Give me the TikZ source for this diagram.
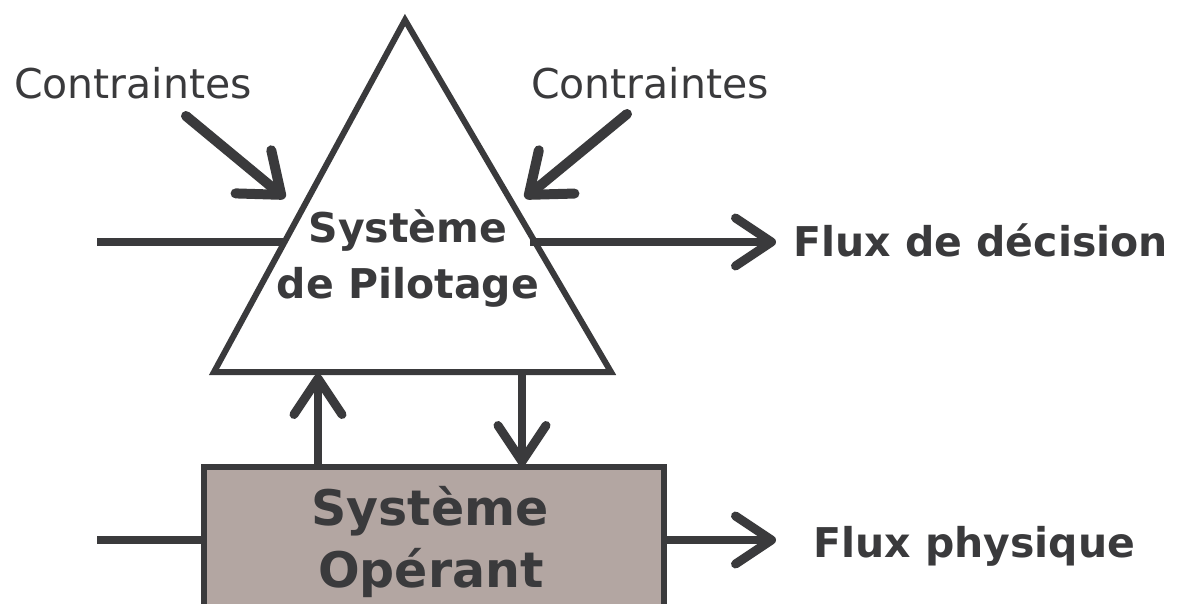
\documentclass[tikz,border=0pt]{standalone}
\usepackage{fontspec}
\setmainfont{DejaVu Sans}
\usetikzlibrary{arrows.meta}
\definecolor{dark}{HTML}{3A3A3C}
\definecolor{boxfill}{HTML}{B3A6A2}
\tikzset{
  conn/.style={draw=dark, line width=8pt, line cap=butt},
  arr/.style={conn, -{Straight Barb[length=36pt, width=48pt, line width=9pt, round]}},
  carr/.style={draw=dark, line width=10pt, line cap=round, -{Straight Barb[length=36pt, width=56pt, line width=10pt, round]}},
  lbl/.style={inner sep=0pt, text=dark, font=\fontsize{41}{50}\selectfont},
  blbl/.style={lbl, font=\bfseries\fontsize{41}{50}\selectfont},
  boxlbl/.style={inner sep=0pt, text=dark, font=\bfseries\fontsize{49}{58}\selectfont},
}
\begin{document}
\begin{tikzpicture}[x=1pt,y=-1pt]
\useasboundingbox (0,0) rectangle (1186,604);
\clip (0,0) rectangle (1186,604);
% triangle
\coordinate (apex) at (405,20);
\coordinate (bl) at (214,372);
\coordinate (br) at (611,372);
\draw[draw=dark, line width=6pt, line join=miter, fill=white] (apex) -- (br) -- (bl) -- cycle;
% box
\node[draw=dark, line width=6pt, fill=boxfill, minimum width=460pt, minimum height=200pt, inner sep=0pt, anchor=north west] (op) at (201,464) {};
% text in triangle
\node[blbl, anchor=base] (sp1) at (408,243) {Système};
\node[blbl, anchor=base] (sp2) at (408,298) {de Pilotage};
% text in box
\node[boxlbl, anchor=base] (so1) at (430,525) {Système};
\node[boxlbl, anchor=base] (so2) at (431,587) {Opérant};
% labels
\node[lbl, anchor=base] (c1) at (133,99) {Contraintes};
\node[lbl, anchor=base] (c2) at (650,99) {Contraintes};
\node[blbl, anchor=base west] (fd) at (793,257) {Flux de décision};
\node[blbl, anchor=base west] (fp) at (813,557) {Flux physique};
% coordinates
\coordinate (inL) at (97,242);
\coordinate (teL) at (284,242);
\coordinate (teR) at (530,242);
\coordinate (outR) at (776,242);
\coordinate (c1s) at (186,116);
\coordinate (c1e) at (285,198);
\coordinate (c2s) at (627,114);
\coordinate (c2e) at (525,198);
\coordinate (upS) at (318,466);
\coordinate (upE) at (318,374);
\coordinate (dnS) at (522,374);
\coordinate (dnE) at (522,466);
\coordinate (pinL) at (97,540);
\coordinate (pL) at (201,540);
\coordinate (pR) at (661,540);
\coordinate (poutR) at (776,540);
% connectors
\draw[conn] (inL) -- (teL);
\draw[arr] (teR) -- (outR);
\draw[carr] (c1s) -- (c1e);
\draw[carr] (c2s) -- (c2e);
\draw[arr] (upS) -- (upE);
\draw[arr] (dnS) -- (dnE);
\draw[conn] (pinL) -- (pL);
\draw[arr] (pR) -- (poutR);
\end{tikzpicture}
\end{document}
